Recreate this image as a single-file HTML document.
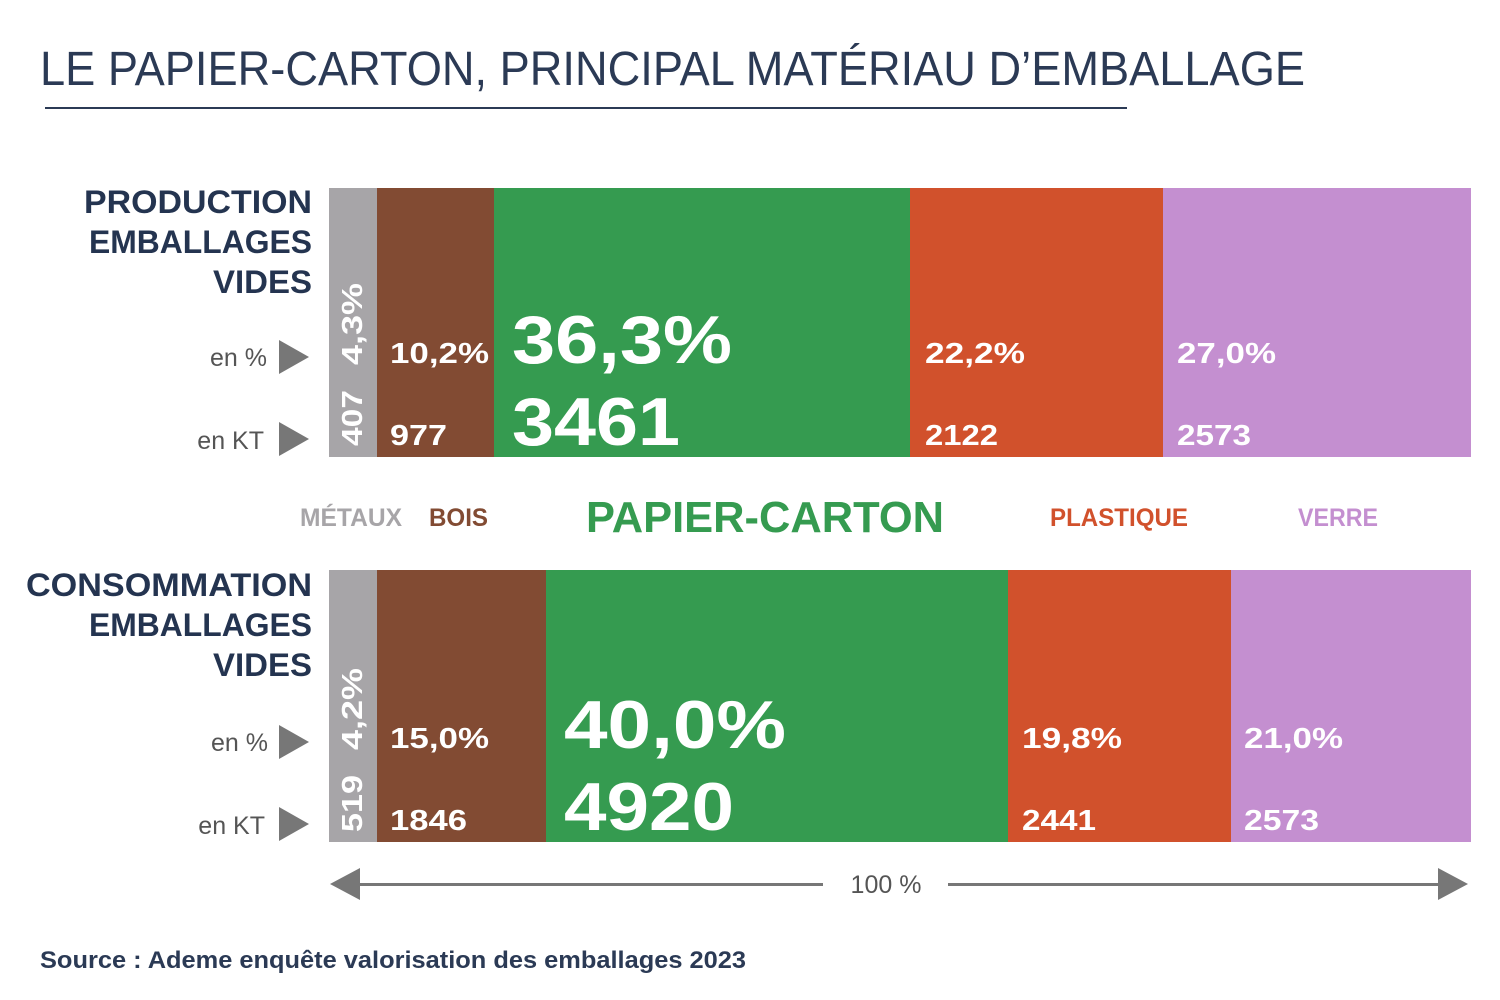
<!DOCTYPE html>
<html><head><meta charset="utf-8"><style>
html,body{margin:0;padding:0;background:#fff;}
svg{display:block;font-family:"Liberation Sans",sans-serif;}
.b{font-weight:bold;}
</style></head><body>
<svg width="1500" height="1000" viewBox="0 0 1500 1000">
<text x="40" y="85" font-size="48" fill="#2b3a55" textLength="1265" lengthAdjust="spacingAndGlyphs">LE PAPIER-CARTON, PRINCIPAL MATÉRIAU D’EMBALLAGE</text>
<rect x="45" y="107" width="1082" height="2" fill="#2b3a55"/>

<rect x="329" y="188" width="48" height="269" fill="#a7a5a8"/>
<rect x="377" y="188" width="117" height="269" fill="#824b33"/>
<rect x="494" y="188" width="416" height="269" fill="#359b50"/>
<rect x="910" y="188" width="253" height="269" fill="#d1512c"/>
<rect x="1163" y="188" width="308" height="269" fill="#c48fd0"/>
<rect x="329" y="570" width="48" height="272" fill="#a7a5a8"/>
<rect x="377" y="570" width="169" height="272" fill="#824b33"/>
<rect x="546" y="570" width="462" height="272" fill="#359b50"/>
<rect x="1008" y="570" width="223" height="272" fill="#d1512c"/>
<rect x="1231" y="570" width="240" height="272" fill="#c48fd0"/>

<g class="b" fill="#243450" font-size="32" text-anchor="end">
<text x="312" y="213" textLength="228" lengthAdjust="spacingAndGlyphs">PRODUCTION</text>
<text x="312" y="253" textLength="223" lengthAdjust="spacingAndGlyphs">EMBALLAGES</text>
<text x="312" y="293" textLength="99" lengthAdjust="spacingAndGlyphs">VIDES</text>
<text x="312" y="596" textLength="286" lengthAdjust="spacingAndGlyphs">CONSOMMATION</text>
<text x="312" y="636" textLength="223" lengthAdjust="spacingAndGlyphs">EMBALLAGES</text>
<text x="312" y="676" textLength="99" lengthAdjust="spacingAndGlyphs">VIDES</text>
</g>
<g fill="#555" font-size="25" text-anchor="end">
<text x="267" y="366">en %</text>
<text x="264" y="449">en KT</text>
<text x="268" y="751">en %</text>
<text x="265" y="834">en KT</text>
</g>
<g fill="#777">
<polygon points="279,340 309,357 279,374"/>
<polygon points="279,422 309,439 279,456"/>
<polygon points="279,725 309,742 279,759"/>
<polygon points="279,807 309,824 279,841"/>
</g>

<g class="b" fill="#fff" font-size="29">
<text transform="translate(362,365) rotate(-90)" textLength="82" lengthAdjust="spacingAndGlyphs">4,3%</text>
<text transform="translate(362,446) rotate(-90)" textLength="56" lengthAdjust="spacingAndGlyphs">407</text>
<text transform="translate(362,750) rotate(-90)" textLength="82" lengthAdjust="spacingAndGlyphs">4,2%</text>
<text transform="translate(362,832) rotate(-90)" textLength="57" lengthAdjust="spacingAndGlyphs">519</text>
<text x="390" y="363" textLength="99" lengthAdjust="spacingAndGlyphs">10,2%</text>
<text x="390" y="445" textLength="57" lengthAdjust="spacingAndGlyphs">977</text>
<text x="925" y="363" textLength="100" lengthAdjust="spacingAndGlyphs">22,2%</text>
<text x="925" y="445" textLength="73" lengthAdjust="spacingAndGlyphs">2122</text>
<text x="1177" y="363" textLength="99" lengthAdjust="spacingAndGlyphs">27,0%</text>
<text x="1177" y="445" textLength="74" lengthAdjust="spacingAndGlyphs">2573</text>
<text x="390" y="748" textLength="99" lengthAdjust="spacingAndGlyphs">15,0%</text>
<text x="390" y="830" textLength="77" lengthAdjust="spacingAndGlyphs">1846</text>
<text x="1022" y="748" textLength="100" lengthAdjust="spacingAndGlyphs">19,8%</text>
<text x="1022" y="830" textLength="74" lengthAdjust="spacingAndGlyphs">2441</text>
<text x="1244" y="748" textLength="99" lengthAdjust="spacingAndGlyphs">21,0%</text>
<text x="1244" y="830" textLength="75" lengthAdjust="spacingAndGlyphs">2573</text>
<text x="512" y="363" font-size="68" textLength="220" lengthAdjust="spacingAndGlyphs">36,3%</text>
<text x="512" y="445" font-size="68" textLength="168" lengthAdjust="spacingAndGlyphs">3461</text>
<text x="564" y="748" font-size="68" textLength="222" lengthAdjust="spacingAndGlyphs">40,0%</text>
<text x="564" y="830" font-size="68" textLength="170" lengthAdjust="spacingAndGlyphs">4920</text>
</g>

<g class="b" font-size="25">
<text x="300" y="526" fill="#a7a5a8" textLength="102" lengthAdjust="spacingAndGlyphs">MÉTAUX</text>
<text x="429" y="526" fill="#824b33" textLength="59" lengthAdjust="spacingAndGlyphs">BOIS</text>
<text x="586" y="532" fill="#359b50" font-size="44" textLength="358" lengthAdjust="spacingAndGlyphs">PAPIER-CARTON</text>
<text x="1050" y="526" fill="#d1512c" textLength="138" lengthAdjust="spacingAndGlyphs">PLASTIQUE</text>
<text x="1298" y="526" fill="#c48fd0" textLength="80" lengthAdjust="spacingAndGlyphs">VERRE</text>
</g>

<g fill="#777">
<rect x="350" y="883" width="473" height="3"/>
<rect x="948" y="883" width="500" height="3"/>
<polygon points="330,884 360,868 360,900"/>
<polygon points="1468,884 1438,868 1438,900"/>
</g>
<text x="886" y="893" font-size="25" fill="#555" text-anchor="middle">100 %</text>

<text x="40" y="968" font-size="24" fill="#2b3a55" font-weight="bold" textLength="706" lengthAdjust="spacingAndGlyphs">Source : Ademe enquête valorisation des emballages 2023</text>
</svg>
</body></html>
